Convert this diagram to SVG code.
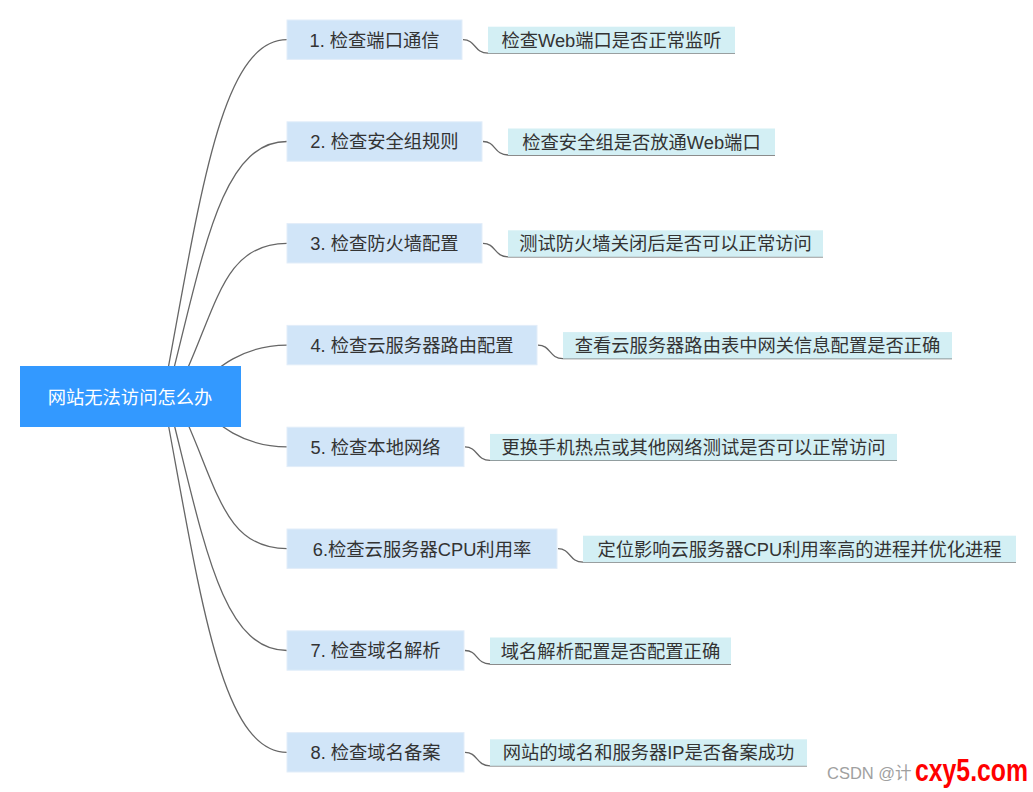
<svg xmlns="http://www.w3.org/2000/svg" width="1033" height="792" viewBox="0 0 1033 792">
<style>
text{font-family:"Liberation Sans","Noto Sans CJK SC",sans-serif;font-size:18.3px}
.n rect{fill:#d1e5f8;stroke:#e2edf9;stroke-width:1}
.n text{fill:#333;text-anchor:middle}
.c rect{fill:#d3eff4}
.c text{fill:#333;text-anchor:middle}
#connectors path{fill:none;stroke:#666;stroke-width:1.3}
.root rect{fill:#3399ff}
.root text{fill:#fff;text-anchor:middle}
</style>
<rect width="1033" height="792" fill="#fff"/>
<g id="connectors">
<path d="M163,396 C200,200 220,39.7 287,39.7"/>
<path d="M167,396 C203,256 220,141.5 287,141.5"/>
<path d="M175,396 C217,312 220,243.3 287,243.3"/>
<path d="M185,396 C215,370 240,345.1 287,345.1"/>
<path d="M185,396 C215,422 240,446.9 287,446.9"/>
<path d="M175,396 C217,480 220,548.7 287,548.7"/>
<path d="M167,396 C203,536 220,650.5 287,650.5"/>
<path d="M163,396 C200,592 220,752.3 287,752.3"/>
<path d="M463,39.7 C476,39.7 474,53.2 488,53.2 H735"/>
<path d="M483,141.5 C496,141.5 494,155 508,155 H775"/>
<path d="M483,243.3 C496,243.3 494,256.8 508,256.8 H823"/>
<path d="M538,345.1 C551,345.1 549,358.6 563,358.6 H952"/>
<path d="M465,446.9 C478,446.9 476,460.4 490,460.4 H897"/>
<path d="M558,548.7 C571,548.7 569,562.2 583,562.2 H1016"/>
<path d="M465,650.5 C478,650.5 476,664 490,664 H731"/>
<path d="M465,752.3 C478,752.3 476,765.8 490,765.8 H807"/>
</g>
<g id="root" class="root">
<rect x="20" y="366" width="221" height="61"/>
<text x="130" y="403.5">网站无法访问怎么办</text>
</g>
<g id="node1" class="n"><rect x="287" y="20" width="175" height="39.4"/><text x="374.5" y="46.5">1. 检查端口通信</text></g>
<g id="node2" class="n"><rect x="287" y="121.8" width="195" height="39.4"/><text x="384.5" y="148.3">2. 检查安全组规则</text></g>
<g id="node3" class="n"><rect x="287" y="223.6" width="195" height="39.4"/><text x="384.5" y="250.1">3. 检查防火墙配置</text></g>
<g id="node4" class="n"><rect x="287" y="325.4" width="250" height="39.4"/><text x="412" y="351.9">4. 检查云服务器路由配置</text></g>
<g id="node5" class="n"><rect x="287" y="427.2" width="177" height="39.4"/><text x="375.5" y="453.7">5. 检查本地网络</text></g>
<g id="node6" class="n"><rect x="287" y="529" width="270" height="39.4"/><text x="422" y="555.5">6.检查云服务器CPU利用率</text></g>
<g id="node7" class="n"><rect x="287" y="630.8" width="177" height="39.4"/><text x="375.5" y="657.3">7. 检查域名解析</text></g>
<g id="node8" class="n"><rect x="287" y="732.6" width="177" height="39.4"/><text x="375.5" y="759.1">8. 检查域名备案</text></g>
<g id="child1" class="c"><rect x="488" y="26.7" width="247" height="26.5"/><text x="611.5" y="46.7">检查Web端口是否正常监听</text></g>
<g id="child2" class="c"><rect x="508" y="128.5" width="267" height="26.5"/><text x="641.5" y="148.5">检查安全组是否放通Web端口</text></g>
<g id="child3" class="c"><rect x="508" y="230.3" width="315" height="26.5"/><text x="665.5" y="250.3">测试防火墙关闭后是否可以正常访问</text></g>
<g id="child4" class="c"><rect x="563" y="332.1" width="389" height="26.5"/><text x="757.5" y="352.1">查看云服务器路由表中网关信息配置是否正确</text></g>
<g id="child5" class="c"><rect x="490" y="433.9" width="407" height="26.5"/><text x="693.5" y="453.9">更换手机热点或其他网络测试是否可以正常访问</text></g>
<g id="child6" class="c"><rect x="583" y="535.7" width="433" height="26.5"/><text x="799.5" y="555.7">定位影响云服务器CPU利用率高的进程并优化进程</text></g>
<g id="child7" class="c"><rect x="490" y="637.5" width="241" height="26.5"/><text x="610.5" y="657.5">域名解析配置是否配置正确</text></g>
<g id="child8" class="c"><rect x="490" y="739.3" width="317" height="26.5"/><text x="648.5" y="759.3">网站的域名和服务器IP是否备案成功</text></g>
<g id="watermark">
<text x="827" y="779" style="font-size:16.5px;fill:#a0a0a0">CSDN @计</text>
<text x="915" y="781" textLength="113" lengthAdjust="spacingAndGlyphs" style="font-size:32px;font-weight:bold;fill:#ff0000">cxy5.com</text>
</g>
</svg>
